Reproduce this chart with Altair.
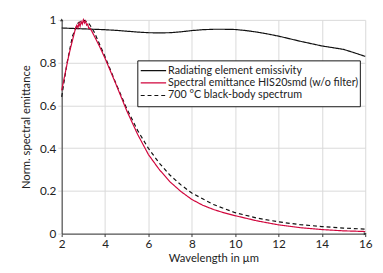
import altair as alt
import pandas as pd

# Radiating element emissivity
emis_x = [2, 2.5, 3, 3.5, 4, 4.5, 5, 5.5, 6, 6.5, 7, 7.5, 8, 8.5, 9, 9.5, 10, 10.5, 11, 11.5, 12, 12.5, 13, 13.5, 14, 14.5, 15, 15.5, 16]
emis_y = [0.962, 0.960, 0.958, 0.956, 0.954, 0.951, 0.947, 0.943, 0.940, 0.939, 0.940, 0.944, 0.950, 0.954, 0.956, 0.956, 0.955, 0.950, 0.943, 0.934, 0.924, 0.912, 0.900, 0.889, 0.878, 0.870, 0.862, 0.846, 0.829]

# Spectral emittance HIS20smd (w/o filter)
red_x = [2, 2.1, 2.2, 2.3, 2.4, 2.5, 2.6, 2.65, 2.7, 2.75, 2.8, 2.85, 2.9, 2.95, 3.0, 3.05, 3.1, 3.15, 3.2, 3.25, 3.3, 3.4, 3.5, 3.75, 4, 4.5, 5, 5.5, 6, 6.5, 7, 7.5, 8, 8.5, 9, 9.5, 10, 11, 12, 13, 14, 15, 16]
red_y = [0.670, 0.720, 0.770, 0.820, 0.865, 0.905, 0.945, 0.965, 0.975, 0.962, 0.985, 0.970, 0.992, 0.980, 1.000, 0.985, 0.995, 0.975, 0.980, 0.960, 0.962, 0.945, 0.925, 0.875, 0.820, 0.700, 0.575, 0.465, 0.370, 0.300, 0.242, 0.197, 0.160, 0.133, 0.113, 0.097, 0.084, 0.060, 0.041, 0.028, 0.019, 0.013, 0.010]

# 700 °C black-body spectrum
bb_x = [2, 2.25, 2.5, 2.75, 3, 3.25, 3.5, 4, 4.5, 5, 5.5, 6, 6.5, 7, 7.5, 8, 9, 10, 11, 12, 13, 14, 15, 16]
bb_y = [0.640, 0.800, 0.925, 0.985, 1.000, 0.985, 0.943, 0.828, 0.703, 0.585, 0.483, 0.399, 0.330, 0.273, 0.228, 0.190, 0.136, 0.098, 0.073, 0.055, 0.042, 0.033, 0.026, 0.021]

names = ["Radiating element emissivity", "Spectral emittance HIS20smd (w/o filter)", "700 °C black-body spectrum"]
colors = ["#111111", "#d1053c", "#111111"]
dashes = [[1, 0], [1, 0], [4, 3]]

rows = []
for x, y in zip(emis_x, emis_y):
    rows.append({"x": x, "y": y, "s": names[0]})
for x, y in zip(bb_x, bb_y):
    rows.append({"x": x, "y": y, "s": names[2]})
for x, y in zip(red_x, red_y):
    rows.append({"x": x, "y": y, "s": names[1]})
df = pd.DataFrame(rows)

FONT = "Lato"
TXT = "#222222"

xscale = alt.Scale(domain=[2, 16], nice=False, zero=False)
yscale = alt.Scale(domain=[0, 1], nice=False)

lines = alt.Chart(df).mark_line(strokeWidth=1.2).encode(
    x=alt.X("x:Q", scale=xscale,
            axis=alt.Axis(title="Wavelength in µm", values=list(range(2, 17)),
                          labelExpr="datum.value % 2 == 0 ? datum.label : ''",
                          grid=True, gridColor="#d9d9d9", gridWidth=1,
                          domainColor="#333333", tickColor="#333333", tickSize=3,
                          labelFontSize=12, titleFontSize=11.5, labelPadding=2,
                          titlePadding=4, labelColor=TXT, titleColor=TXT,
                          titleFontWeight="normal",
                          labelFont=FONT, titleFont=FONT, labelFlush=False)),
    y=alt.Y("y:Q", scale=yscale,
            axis=alt.Axis(title="Norm. spectral emittance", values=[0, 0.2, 0.4, 0.6, 0.8, 1],
                          format="~g", grid=True, gridColor="#d9d9d9", gridWidth=1,
                          domainColor="#333333", tickColor="#d9d9d9", tickSize=4,
                          labelFontSize=12, titleFontSize=11.5, labelPadding=2,
                          titlePadding=8, labelColor=TXT, titleColor=TXT,
                          titleFontWeight="normal",
                          labelFont=FONT, titleFont=FONT, labelFlush=False)),
    color=alt.Color("s:N", scale=alt.Scale(domain=names, range=colors), legend=None),
    strokeDash=alt.StrokeDash("s:N", scale=alt.Scale(domain=names, range=dashes), legend=None),
    detail="s:N",
)

# axis arrowheads
arrows = alt.Chart(pd.DataFrame({
    "x": [2, 16], "y": [1, 0], "shape": ["triangle-up", "triangle-right"]
})).mark_point(filled=True, size=12, color="#333333", opacity=1).encode(
    x=alt.X("x:Q", scale=xscale),
    y=alt.Y("y:Q", scale=yscale),
    shape=alt.Shape("shape:N", scale=None),
)

# manual legend (pixel coordinates inside plot area)
leg = pd.DataFrame({
    "s": names,
    "py": [52, 64.5, 77.5],
})

box = alt.Chart(pd.DataFrame({"a": [0]})).mark_rect(
    fill="white", stroke="#111111", strokeWidth=1
).encode(x=alt.value(78), x2=alt.value(306), y=alt.value(42), y2=alt.value(89))

leg_lines = alt.Chart(leg).mark_rule(strokeWidth=1.2).encode(
    x=alt.value(81), x2=alt.value(107),
    y=alt.Y("py:Q", scale=None),
    color=alt.Color("s:N", scale=alt.Scale(domain=names, range=colors), legend=None),
    strokeDash=alt.StrokeDash("s:N", scale=alt.Scale(domain=names, range=dashes), legend=None),
)

leg_text = alt.Chart(leg).mark_text(
    align="left", baseline="middle", font=FONT, fontSize=11, color=TXT
).encode(
    x=alt.value(109),
    y=alt.Y("py:Q", scale=None),
    text="s:N",
)

chart = alt.layer(lines, arrows, box, leg_lines, leg_text).properties(
    width=311, height=219,
    autosize=alt.AutoSizeParams(type="none"),
    padding={"left": 55, "top": 9, "right": 10, "bottom": 30},
).configure_view(stroke=None)

chart.save("out.html", embed_options={"renderer": "svg", "actions": False})
